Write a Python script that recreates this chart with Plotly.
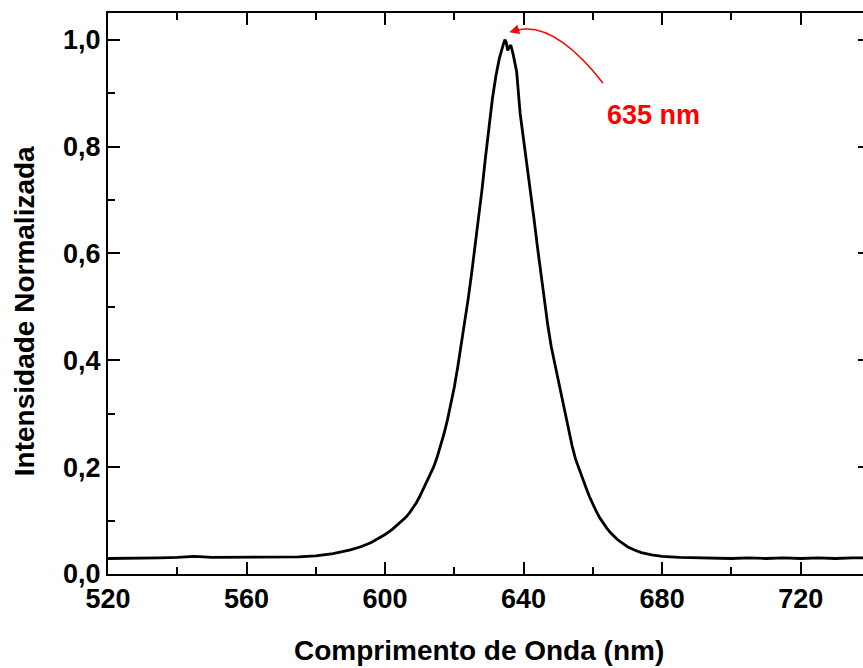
import plotly.graph_objects as go

# Normalised emission spectrum (wavelength in nm, normalised intensity)
wavelength = [
    520, 525, 530, 535, 540, 545, 550, 555, 560, 565, 570, 575, 580, 585,
    590, 593, 596, 598, 600, 602, 604, 606, 607, 608, 609, 610, 611, 612,
    613, 614, 615, 616, 617, 618, 619, 620, 621, 622, 623, 624, 625, 626,
    627, 628, 629, 630, 631, 632, 633, 634, 634.6, 635.0, 635.4, 635.8,
    636.3, 637, 638, 639, 640, 641, 642, 643, 644, 645, 646, 647, 648, 649,
    650, 651, 652, 653, 654, 655, 656, 657, 658, 659, 660, 661, 662, 663,
    664, 665, 666, 667, 668, 669, 670, 672, 674, 677, 680, 685, 690, 695,
    700, 705, 710, 715, 720, 725, 730, 735, 740,
]
intensity = [
    0.029, 0.029, 0.030, 0.030, 0.031, 0.033, 0.031, 0.031, 0.031, 0.031,
    0.032, 0.032, 0.034, 0.038, 0.045, 0.051, 0.059, 0.066, 0.074, 0.083,
    0.094, 0.106, 0.114, 0.123, 0.133, 0.145, 0.158, 0.171, 0.185, 0.200,
    0.218, 0.238, 0.262, 0.288, 0.318, 0.350, 0.388, 0.428, 0.470, 0.515,
    0.563, 0.612, 0.665, 0.720, 0.780, 0.840, 0.890, 0.932, 0.965, 0.988,
    1.000, 0.995, 0.980, 0.986, 0.990, 0.972, 0.940, 0.862, 0.815, 0.766,
    0.716, 0.665, 0.612, 0.560, 0.510, 0.465, 0.425, 0.393, 0.363, 0.333,
    0.303, 0.272, 0.240, 0.215, 0.196, 0.180, 0.162, 0.145, 0.130, 0.117,
    0.105, 0.095, 0.086, 0.078, 0.071, 0.065, 0.060, 0.055, 0.051, 0.045,
    0.040, 0.036, 0.033, 0.031, 0.030, 0.030, 0.029, 0.030, 0.029, 0.030,
    0.029, 0.030, 0.029, 0.030, 0.030,
]

peak_label = "635 nm"
x_title = "Comprimento de Onda (nm)"
y_title = "Intensidade Normalizada"

FONT = "Liberation Sans, Arial, sans-serif"
RED = "#ff0000"

fig = go.Figure()
fig.add_trace(go.Scatter(
    x=wavelength, y=intensity, mode="lines",
    line=dict(color="black", width=2.8), showlegend=False,
))
# companion trace so the right-hand tick axis is drawn
fig.add_trace(go.Scatter(
    x=wavelength, y=intensity, mode="lines", yaxis="y2",
    line=dict(color="rgba(0,0,0,0)", width=0), showlegend=False,
    hoverinfo="skip",
))

tick_font = dict(family=FONT, size=27, color="black", weight="bold")

fig.update_layout(
    width=863, height=668,
    margin=dict(l=108, r=0, t=13, b=94),
    paper_bgcolor="white", plot_bgcolor="white",
    separators=",.",
    xaxis=dict(
        range=[520, 738], tick0=520, dtick=40,
        ticks="inside", ticklen=12, tickwidth=2, tickcolor="black",
        minor=dict(ticks="inside", ticklen=7, tickwidth=2, dtick=20,
                   tick0=520, tickcolor="black"),
        showline=True, linewidth=2, linecolor="black", mirror="ticks",
        showgrid=False, zeroline=False, tickfont=tick_font,
    ),
    yaxis=dict(
        range=[0, 1.05], tick0=0, dtick=0.2, tickformat=".1f",
        ticks="inside", ticklen=12, tickwidth=2, tickcolor="black",
        minor=dict(ticks="inside", ticklen=7, tickwidth=2, dtick=0.1,
                   tick0=0, tickcolor="black"),
        showline=True, linewidth=2, linecolor="black", mirror=False,
        showgrid=False, zeroline=False, tickfont=tick_font,
    ),
    yaxis2=dict(
        overlaying="y", side="right", anchor="x",
        range=[0, 1.05], tick0=0, dtick=0.2,
        ticks="inside", ticklen=5, tickwidth=2, tickcolor="black",
        showticklabels=False, showline=False, showgrid=False,
        zeroline=False,
    ),
)

# axis titles
fig.add_annotation(
    text=x_title, xref="paper", yref="paper", x=0.4914, y=-0.1355,
    xanchor="center", yanchor="middle", showarrow=False,
    font=dict(family=FONT, size=28, color="black", weight="bold"),
)
fig.add_annotation(
    text=y_title, xref="paper", yref="paper", x=-0.111, y=0.4688,
    xanchor="center", yanchor="middle", showarrow=False, textangle=-90,
    font=dict(family=FONT, size=28, color="black", weight="bold"),
)

# peak label with curved pointer
fig.add_annotation(
    text=peak_label, xref="x", yref="y", x=677.4, y=0.859,
    xanchor="center", yanchor="middle", showarrow=False,
    font=dict(family=FONT, size=27, color=RED, weight="bold"),
)
fig.add_shape(
    type="path", xref="x", yref="y",
    path="M 662.9,0.919 Q 649.1,1.0332 638.4,1.0182",
    line=dict(color=RED, width=1.5),
)
fig.add_annotation(
    x=635.9, y=1.0139, ax=639.0, ay=1.020, xref="x", yref="y",
    axref="x", ayref="y", text="", showarrow=True,
    arrowhead=2, arrowsize=1.3, arrowwidth=1.5, arrowcolor=RED,
)

fig.write_html("out.html")
